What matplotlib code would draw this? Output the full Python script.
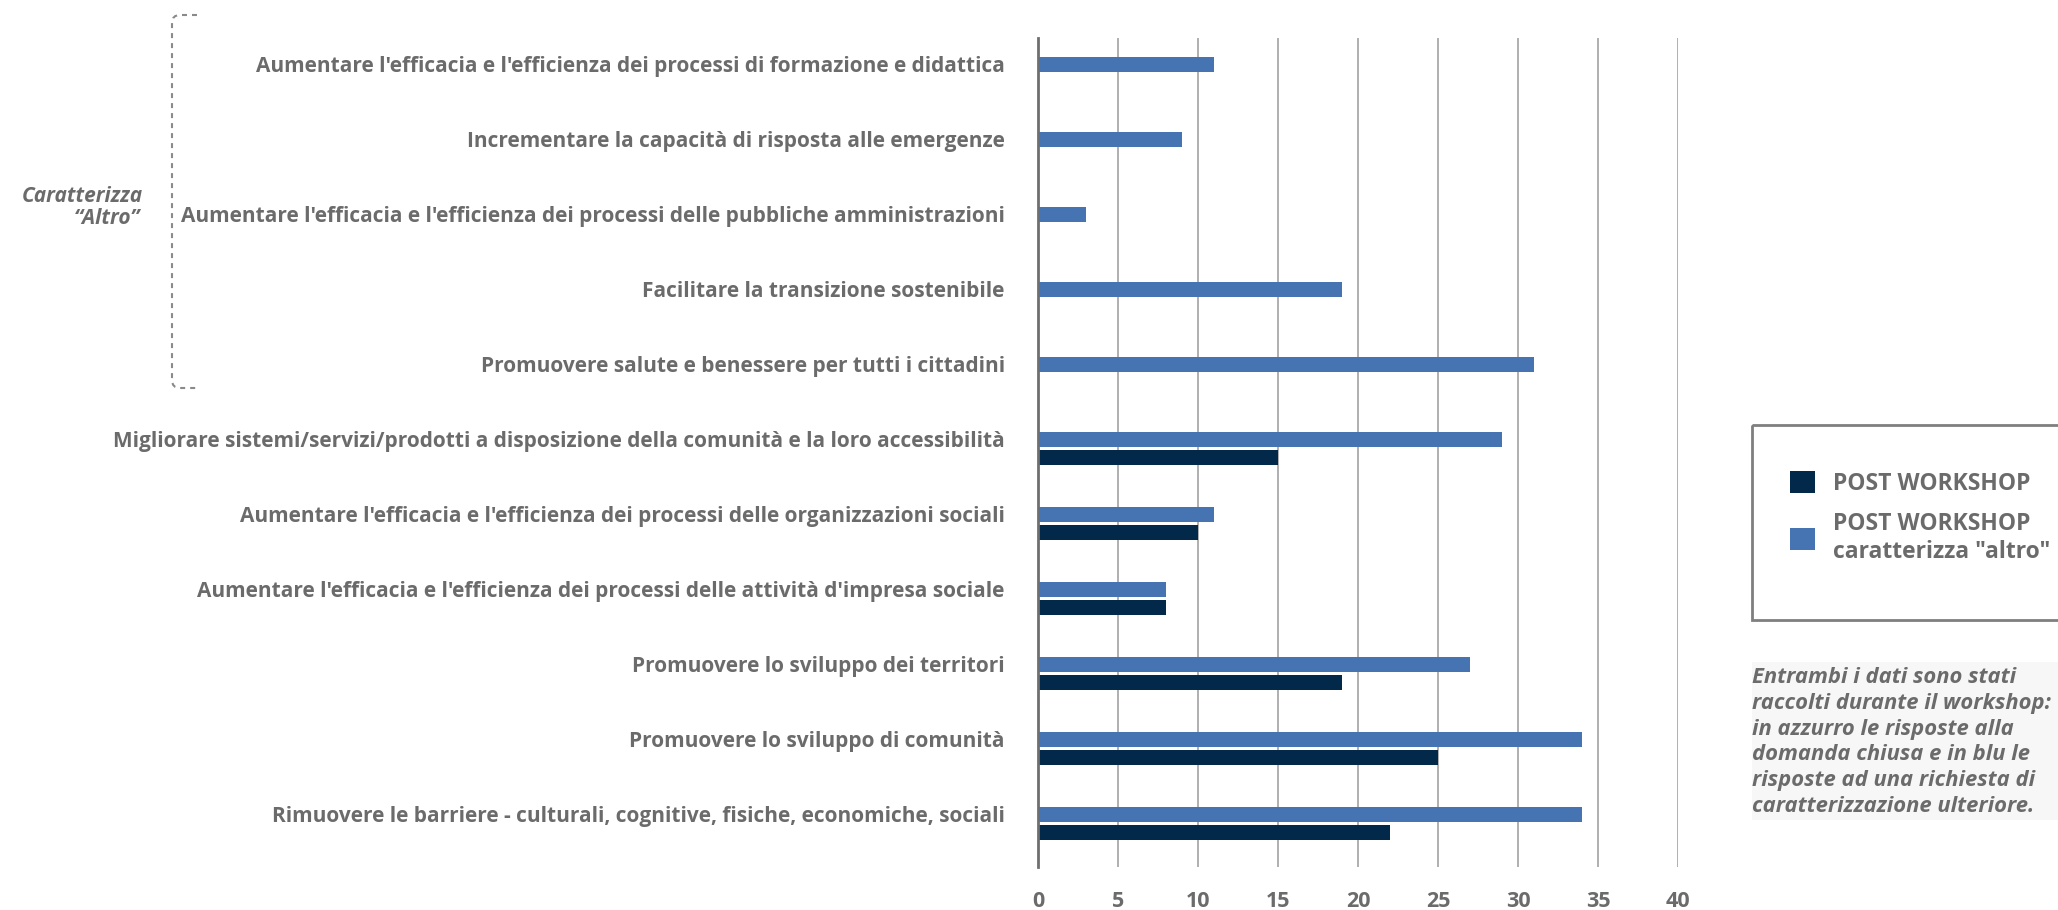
import numpy as np
import matplotlib.pyplot as plt
from matplotlib.patches import Rectangle, PathPatch
from matplotlib.path import Path

plt.rcParams['font.family'] = ['Open Sans', 'DejaVu Sans']

categories = [
    "Aumentare l'efficacia e l'efficienza dei processi di formazione e didattica",
    "Incrementare la capacità di risposta alle emergenze",
    "Aumentare l'efficacia e l'efficienza dei processi delle pubbliche amministrazioni",
    "Facilitare la transizione sostenibile",
    "Promuovere salute e benessere per tutti i cittadini",
    "Migliorare sistemi/servizi/prodotti a disposizione della comunità e la loro accessibilità",
    "Aumentare l'efficacia e l'efficienza dei processi delle organizzazioni sociali",
    "Aumentare l'efficacia e l'efficienza dei processi delle attività d'impresa sociale",
    "Promuovere lo sviluppo dei territori",
    "Promuovere lo sviluppo di comunità",
    "Rimuovere le barriere - culturali, cognitive, fisiche, economiche, sociali",
]
altro = [11, 9, 3, 19, 31, 29, 11, 8, 27, 34, 34]
post = [np.nan, np.nan, np.nan, np.nan, np.nan, 15, 10, 8, 19, 25, 22]
xticks = [0, 5, 10, 15, 20, 25, 30, 35, 40]

light = '#4673b1'
dark = '#03294a'
grey = '#6b6b6b'

fig = plt.figure(figsize=(20.58, 9.10), dpi=100)
ax = fig.add_axes([1038 / 2058, 1 - 867 / 910, 640 / 2058, 829 / 910])
ax.set_facecolor('none')

y = np.arange(len(categories))
off = 0.12
h = 0.19
b_altro = ax.barh(y - off, altro, height=h, color=light)
b_post = ax.barh(y + off, post, height=h, color=dark)

ax.set_xlim(0, 40)
ax.set_ylim(10.58, -0.473)
ax.set_xticks(xticks)
ax.set_yticks(y - off)
ax.set_yticklabels(categories, fontsize=15, fontweight='bold', color=grey)
ax.tick_params(axis='y', length=0, pad=24)
ax.tick_params(axis='x', length=0, pad=17, labelsize=15.5, labelcolor=grey)
for t in ax.get_xticklabels():
    t.set_fontweight('bold')
ax.grid(axis='x', color='#a9a9a9', lw=1.3)
ax.set_axisbelow(True)
for s in ['top', 'right', 'bottom']:
    ax.spines[s].set_visible(False)
ax.spines['left'].set_color('#6f6f6f')
ax.spines['left'].set_linewidth(2)

# overlay in pixel coordinates for annotations
ov = fig.add_axes([0, 0, 1, 1])
ov.set_xlim(0, 2058)
ov.set_ylim(910, 0)
ov.axis('off')
ov.set_facecolor('none')

verts = [(197, 15), (180, 15), (172, 15), (172, 23), (172, 380),
         (172, 388), (180, 388), (197, 388)]
codes = [Path.MOVETO, Path.LINETO, Path.CURVE3, Path.CURVE3, Path.LINETO,
         Path.CURVE3, Path.CURVE3, Path.LINETO]
ov.add_patch(PathPatch(Path(verts, codes), fill=False, edgecolor='#8a8a8a',
                       lw=1.5, linestyle=(0, (2.4, 2.4))))
ov.text(143, 197, 'Caratterizza', ha='right', va='center', style='italic',
        fontweight='bold', fontsize=15, color=grey)
ov.text(140, 219, '\u201cAltro\u201d', ha='right', va='center', style='italic',
        fontweight='bold', fontsize=15, color=grey)

# legend
ov.add_patch(Rectangle((1752, 425), 400, 195, fill=False, edgecolor='#7f7f7f', lw=2))
fig.legend([b_post, b_altro], ['POST WORKSHOP', 'POST WORKSHOP\ncaratterizza "altro"'],
           loc='upper left', bbox_to_anchor=(1790 / 2058, 1 - 471 / 910),
           frameon=False, handlelength=1.08, handleheight=1.08,
           handletextpad=0.78, labelspacing=0.72, borderpad=0, borderaxespad=0,
           prop={'weight': 'bold', 'size': 16.5}, labelcolor=grey)

# note
ov.add_patch(Rectangle((1752, 662), 400, 158, facecolor='#f7f7f7', edgecolor='none'))
ov.text(1752, 667,
        'Entrambi i dati sono stati\nraccolti durante il workshop:\nin azzurro le risposte alla\n'
        'domanda chiusa e in blu le\nrisposte ad una richiesta di\ncaratterizzazione ulteriore.',
        ha='left', va='top', style='italic', fontweight='bold', fontsize=15.8,
        color=grey, linespacing=1.3)

fig.savefig('out.png', dpi=100)
